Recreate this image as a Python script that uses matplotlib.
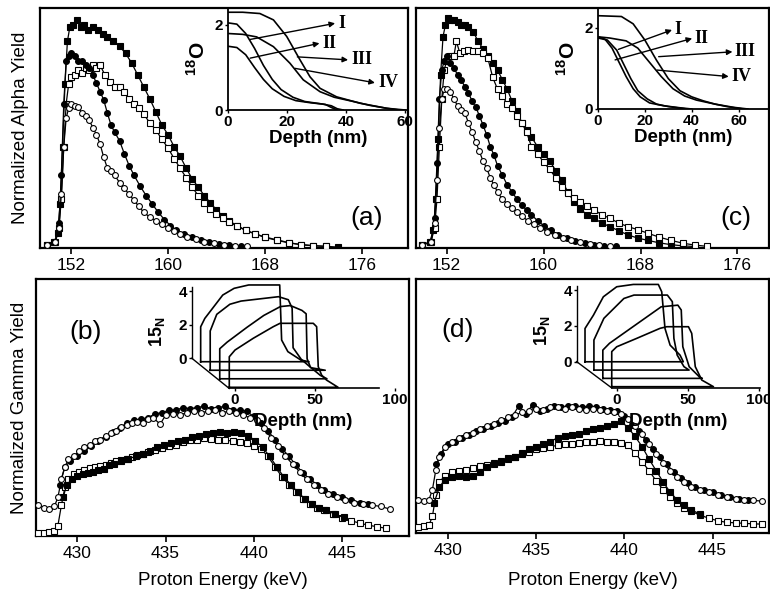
import numpy as np
import matplotlib
matplotlib.use('Agg')
import matplotlib.pyplot as plt

plt.rcParams['font.family'] = ['Liberation Sans', 'DejaVu Sans']
plt.rcParams['mathtext.fontset'] = 'custom'
plt.rcParams['mathtext.rm'] = 'Liberation Sans'
plt.rcParams['mathtext.bf'] = 'Liberation Sans:bold'

W, H = 770, 593

################################################################################
# panel (a): alpha yield vs proton energy (keV)

fs_a_x = [150.0, 150.6, 150.9, 151.1, 151.3, 151.5, 151.7, 151.9, 152.2, 152.5, 152.8, 153.1, 153.4, 153.8,
          154.2, 154.6, 155.0, 155.5, 156.0, 156.5, 157.0, 157.5, 158.0, 158.5, 159.0, 159.5, 160.0, 160.5,
          161.0, 161.5, 162.0, 162.5, 163.0, 163.5, 164.0, 164.5, 165.0, 165.7, 166.4, 167.2, 168.0, 169.0,
          170.0, 171.0, 172.0, 173.0, 174.0]
fs_a_y = [0.01, 0.02, 0.06, 0.18, 0.42, 0.68, 0.86, 0.92, 0.93, 0.95, 0.92, 0.93, 0.91, 0.92,
          0.91, 0.89, 0.88, 0.86, 0.84, 0.81, 0.77, 0.72, 0.67, 0.62, 0.565, 0.51, 0.47, 0.42,
          0.38, 0.33, 0.285, 0.25, 0.215, 0.185, 0.155, 0.13, 0.11, 0.09, 0.07, 0.055, 0.04, 0.028,
          0.017, 0.01, 0.006, 0.003, 0.0]

os_a_x = [150.0, 150.7, 151.0, 151.2, 151.4, 151.6, 151.8, 152.0, 152.3, 152.6, 152.9, 153.2, 153.5, 153.8,
          154.1, 154.4, 154.8, 155.2, 155.6, 156.0, 156.4, 156.8, 157.2, 157.6, 158.0, 158.5, 159.0, 159.5,
          160.0, 160.5, 161.0, 161.5, 162.0, 162.5, 163.0, 163.5, 164.0, 164.5, 165.0, 165.7, 166.4, 167.2,
          168.0, 169.0, 170.0, 171.0, 172.0, 173.0]
os_a_y = [0.01, 0.02, 0.08, 0.2, 0.42, 0.6, 0.68, 0.71, 0.72, 0.74, 0.73, 0.75, 0.74, 0.76,
          0.75, 0.76, 0.72, 0.69, 0.67, 0.67, 0.65, 0.62, 0.6, 0.58, 0.555, 0.52, 0.49, 0.45,
          0.415, 0.37, 0.33, 0.29, 0.25, 0.215, 0.185, 0.16, 0.14, 0.12, 0.105, 0.088, 0.07, 0.055,
          0.042, 0.03, 0.018, 0.01, 0.005, 0.003]

fc_a_x = [150.0, 150.7, 151.0, 151.2, 151.4, 151.6, 151.8, 152.0, 152.3, 152.6, 152.9, 153.2, 153.5, 153.8,
          154.1, 154.4, 154.7, 155.0, 155.3, 155.6, 156.0, 156.4, 156.8, 157.2, 157.7, 158.2, 158.7, 159.2,
          159.7, 160.2, 160.7, 161.3, 162.0, 162.7, 163.4, 164.2, 165.0, 166.0]
fc_a_y = [0.01, 0.02, 0.1, 0.3, 0.6, 0.78, 0.8, 0.81, 0.8, 0.78, 0.78, 0.76, 0.75, 0.72,
          0.685, 0.65, 0.615, 0.56, 0.51, 0.48, 0.445, 0.39, 0.34, 0.3, 0.255, 0.215, 0.18, 0.145,
          0.115, 0.09, 0.07, 0.055, 0.04, 0.028, 0.02, 0.012, 0.008, 0.004]

oc_a_x = [150.0, 150.7, 151.0, 151.2, 151.4, 151.6, 151.8, 152.0, 152.3, 152.6, 152.9, 153.2, 153.5, 153.8,
          154.1, 154.4, 154.7, 155.0, 155.3, 155.6, 156.0, 156.4, 156.8, 157.2, 157.6, 158.0, 158.5, 159.0,
          159.5, 160.0, 160.5, 161.0, 161.6, 162.3, 163.0, 163.8, 164.6, 165.5, 166.5]
oc_a_y = [0.01, 0.02, 0.08, 0.22, 0.42, 0.54, 0.58, 0.6, 0.59, 0.585, 0.56, 0.55, 0.53, 0.5,
          0.47, 0.43, 0.375, 0.33, 0.32, 0.3, 0.27, 0.245, 0.22, 0.195, 0.17, 0.145, 0.125, 0.11,
          0.095, 0.08, 0.068, 0.055, 0.042, 0.032, 0.022, 0.016, 0.01, 0.006, 0.003]

################################################################################
# panel (c)

fs_c_x = [150.0, 150.6, 150.9, 151.1, 151.3, 151.5, 151.7, 151.9, 152.1, 152.3, 152.6, 152.9, 153.2, 153.5,
          153.8, 154.2, 154.6, 155.0, 155.4, 155.8, 156.2, 156.6, 157.0, 157.4, 157.8, 158.2, 158.6, 159.0,
          159.5, 160.0, 160.5, 161.0, 161.5, 162.0, 162.5, 163.0, 163.6, 164.2, 164.8, 165.5, 166.2, 167.0,
          167.8, 168.6, 169.5, 170.5, 171.5, 172.5]
fs_c_y = [0.01, 0.02, 0.07, 0.2, 0.45, 0.72, 0.88, 0.93, 0.96, 0.95, 0.95, 0.94, 0.93, 0.93,
          0.92, 0.9, 0.86, 0.83, 0.8, 0.77, 0.74, 0.7, 0.66, 0.61, 0.57, 0.52, 0.49, 0.46,
          0.42, 0.39, 0.36, 0.32, 0.28, 0.23, 0.19, 0.16, 0.135, 0.12, 0.1, 0.085, 0.068, 0.05,
          0.037, 0.028, 0.018, 0.01, 0.005, 0.002]

os_c_x = [150.0, 150.7, 151.0, 151.2, 151.4, 151.6, 151.8, 152.0, 152.3, 152.6, 152.8, 153.1, 153.4, 153.8,
          154.2, 154.6, 155.0, 155.4, 155.8, 156.2, 156.6, 157.0, 157.4, 157.8, 158.2, 158.6, 159.0, 159.5,
          160.0, 160.5, 161.0, 161.5, 162.0, 162.5, 163.0, 163.6, 164.2, 164.8, 165.5, 166.2, 167.0, 167.8,
          168.6, 169.5, 170.5, 171.5, 172.5, 173.5]
os_c_y = [0.01, 0.02, 0.08, 0.2, 0.42, 0.62, 0.74, 0.78, 0.8, 0.8, 0.86, 0.81, 0.82, 0.825,
          0.82, 0.82, 0.81, 0.79, 0.71, 0.66, 0.63, 0.6, 0.58, 0.55, 0.52, 0.48, 0.42, 0.39,
          0.355, 0.325, 0.29, 0.25, 0.225, 0.205, 0.19, 0.17, 0.155, 0.135, 0.12, 0.1, 0.085, 0.072,
          0.058, 0.042, 0.028, 0.016, 0.008, 0.003]

fc_c_x = [150.0, 150.7, 151.0, 151.2, 151.4, 151.6, 151.8, 152.0, 152.3, 152.6, 152.9, 153.2, 153.5, 153.8,
          154.1, 154.4, 154.7, 155.0, 155.3, 155.6, 155.9, 156.2, 156.6, 157.0, 157.4, 157.8, 158.2, 158.6,
          159.0, 159.5, 160.0, 160.6, 161.2, 161.9, 162.6, 163.4, 164.2, 165.0, 166.0]
fc_c_y = [0.01, 0.02, 0.12, 0.35, 0.62, 0.74, 0.78, 0.8, 0.77, 0.75, 0.72, 0.7, 0.67, 0.645,
          0.61, 0.585, 0.55, 0.51, 0.47, 0.42, 0.385, 0.34, 0.3, 0.26, 0.23, 0.2, 0.175, 0.155,
          0.135, 0.11, 0.09, 0.07, 0.052, 0.037, 0.026, 0.017, 0.01, 0.006, 0.003]

oc_c_x = [150.0, 150.7, 151.0, 151.2, 151.4, 151.6, 151.8, 152.0, 152.3, 152.6, 152.9, 153.2, 153.5, 153.8,
          154.1, 154.4, 154.7, 155.0, 155.3, 155.6, 155.9, 156.2, 156.6, 157.0, 157.4, 157.8, 158.2, 158.7,
          159.2, 159.7, 160.3, 160.9, 161.6, 162.3, 163.0, 163.8, 164.6, 165.5]
oc_c_y = [0.01, 0.02, 0.1, 0.28, 0.5, 0.62, 0.66, 0.66, 0.65, 0.62, 0.59, 0.575, 0.56, 0.52,
          0.48, 0.44, 0.4, 0.36, 0.33, 0.29, 0.26, 0.23, 0.2, 0.18, 0.165, 0.145, 0.13, 0.11,
          0.095, 0.08, 0.065, 0.05, 0.038, 0.028, 0.02, 0.012, 0.007, 0.003]

################################################################################
# panel (b): gamma yield vs proton energy (keV)

oc_b_x = [427.8, 428.1, 428.4, 428.7, 428.9, 429.1, 429.3, 429.5, 429.8, 430.1, 430.4, 430.7, 431.0, 431.3,
          431.6, 431.9, 432.2, 432.5, 432.8, 433.1, 433.4, 433.7, 434.0, 434.3, 434.7, 435.0, 435.4, 435.8,
          436.2, 436.6, 437.0, 437.4, 437.8, 438.2, 438.6, 439.0, 439.4, 439.8, 440.2, 440.6, 441.0, 441.4,
          441.8, 442.2, 442.6, 443.0, 443.4, 443.8, 444.2, 444.7, 445.2, 445.7, 446.2, 446.7, 447.2, 447.7]
oc_b_y = [0.12, 0.11, 0.105, 0.115, 0.15, 0.22, 0.27, 0.3, 0.31, 0.33, 0.345, 0.355, 0.37, 0.375,
          0.39, 0.4, 0.41, 0.425, 0.43, 0.44, 0.445, 0.44, 0.455, 0.46, 0.435, 0.47, 0.475, 0.47,
          0.48, 0.485, 0.48, 0.485, 0.49, 0.48, 0.485, 0.48, 0.47, 0.46, 0.45, 0.42, 0.38, 0.35,
          0.31, 0.28, 0.25, 0.22, 0.2, 0.18, 0.165, 0.15, 0.14, 0.13, 0.125, 0.12, 0.115, 0.105]

fc_b_x = [429.0, 429.3, 429.6, 430.0, 430.4, 430.8, 431.2, 431.6, 432.0, 432.4, 432.8, 433.2, 433.6, 434.0,
          434.4, 434.8, 435.2, 435.6, 436.0, 436.4, 436.8, 437.2, 437.6, 438.0, 438.4, 438.8, 439.2, 439.6,
          440.0, 440.4, 440.8, 441.2, 441.6, 442.0, 442.4, 442.8, 443.2, 443.6, 444.0, 444.5, 445.0, 445.5,
          446.0, 446.5]
fc_b_y = [0.2, 0.27, 0.29, 0.31, 0.33, 0.35, 0.37, 0.385, 0.405, 0.42, 0.44, 0.45, 0.455, 0.46,
          0.475, 0.48, 0.49, 0.49, 0.5, 0.495, 0.5, 0.505, 0.495, 0.5, 0.505, 0.49, 0.49, 0.485,
          0.465, 0.44, 0.41, 0.375, 0.34, 0.31, 0.275, 0.245, 0.22, 0.2, 0.18, 0.165, 0.15, 0.14,
          0.13, 0.125]

os_b_x = [427.8, 428.1, 428.4, 428.7, 428.9, 429.1, 429.3, 429.5, 429.8, 430.1, 430.4, 430.7, 431.0, 431.3,
          431.6, 431.9, 432.2, 432.5, 432.8, 433.1, 433.4, 433.7, 434.0, 434.4, 434.8, 435.2, 435.6, 436.0,
          436.4, 436.8, 437.2, 437.6, 438.0, 438.4, 438.8, 439.2, 439.6, 440.0, 440.4, 440.8, 441.2, 441.6,
          442.0, 442.4, 442.8, 443.2, 443.6, 444.0, 444.5, 445.0, 445.5, 446.0, 446.5, 447.0, 447.5]
os_b_y = [0.01, 0.012, 0.015, 0.02, 0.04, 0.12, 0.19, 0.22, 0.24, 0.25, 0.258, 0.265, 0.268, 0.272,
          0.275, 0.283, 0.29, 0.295, 0.3, 0.308, 0.315, 0.32, 0.328, 0.335, 0.342, 0.35, 0.355, 0.365,
          0.372, 0.375, 0.38, 0.378, 0.372, 0.372, 0.37, 0.365, 0.36, 0.35, 0.34, 0.31, 0.27, 0.23,
          0.2, 0.17, 0.145, 0.125, 0.11, 0.1, 0.085, 0.07, 0.06, 0.05, 0.042, 0.036, 0.03]

fs_b_x = [429.2, 429.4, 429.7, 430.0, 430.3, 430.6, 430.9, 431.2, 431.5, 431.8, 432.1, 432.5, 432.9, 433.3,
          433.7, 434.1, 434.5, 434.9, 435.3, 435.7, 436.1, 436.5, 436.9, 437.3, 437.7, 438.1, 438.5, 438.9,
          439.3, 439.7, 440.1, 440.5, 440.9, 441.3, 441.7, 442.1, 442.5, 442.9, 443.3, 443.7, 444.1, 444.6,
          445.1]
fs_b_y = [0.15, 0.2, 0.22, 0.235, 0.24, 0.245, 0.25, 0.255, 0.26, 0.275, 0.28, 0.29, 0.3, 0.31,
          0.32, 0.33, 0.345, 0.355, 0.36, 0.37, 0.375, 0.385, 0.39, 0.395, 0.4, 0.405, 0.4, 0.405,
          0.4, 0.39, 0.37, 0.345, 0.31, 0.27, 0.23, 0.2, 0.17, 0.145, 0.125, 0.11, 0.1, 0.085,
          0.072]

################################################################################
# panel (d)

oc_d_x = [428.3, 428.6, 428.9, 429.1, 429.3, 429.5, 429.8, 430.2, 430.6, 431.0, 431.4, 431.8, 432.2, 432.6,
          433.0, 433.4, 433.8, 434.2, 434.6, 435.0, 435.4, 435.8, 436.2, 436.6, 437.0, 437.4, 437.8, 438.2,
          438.6, 439.0, 439.4, 439.8, 440.2, 440.6, 441.0, 441.4, 441.8, 442.2, 442.6, 443.0, 443.4, 443.8,
          444.3, 444.8, 445.3, 445.8, 446.3, 446.8, 447.3, 447.8]
oc_d_y = [0.13, 0.125, 0.13, 0.17, 0.25, 0.3, 0.34, 0.36, 0.375, 0.385, 0.395, 0.41, 0.42, 0.43,
          0.445, 0.455, 0.465, 0.475, 0.48, 0.49, 0.485, 0.495, 0.495, 0.49, 0.495, 0.49, 0.485, 0.49,
          0.485, 0.48, 0.475, 0.47, 0.45, 0.42, 0.39, 0.35, 0.31, 0.275, 0.245, 0.22, 0.2, 0.18,
          0.168, 0.16, 0.15, 0.142, 0.135, 0.13, 0.128, 0.126]

fc_d_x = [429.3, 429.6, 430.0, 430.4, 430.8, 431.2, 431.6, 432.0, 432.4, 432.8, 433.2, 433.6, 434.0, 434.4,
          434.8, 435.2, 435.6, 436.0, 436.4, 436.8, 437.2, 437.6, 438.0, 438.4, 438.8, 439.2, 439.6, 440.0,
          440.4, 440.8, 441.2, 441.6, 442.0, 442.4, 442.8, 443.2, 443.6, 444.0, 444.5, 445.0, 445.5, 446.0,
          446.5, 447.0]
fc_d_y = [0.27, 0.31, 0.35, 0.36, 0.375, 0.385, 0.4, 0.41, 0.42, 0.435, 0.44, 0.455, 0.5, 0.47,
          0.505, 0.48, 0.49, 0.5, 0.495, 0.5, 0.5, 0.495, 0.5, 0.495, 0.49, 0.485, 0.48, 0.46,
          0.425, 0.4, 0.365, 0.33, 0.3, 0.27, 0.24, 0.215, 0.195, 0.18, 0.17, 0.16, 0.15, 0.14,
          0.135, 0.13]

os_d_x = [428.3, 428.6, 428.9, 429.1, 429.3, 429.5, 429.8, 430.2, 430.6, 431.0, 431.4, 431.8, 432.2, 432.6,
          433.0, 433.4, 433.8, 434.2, 434.6, 435.0, 435.4, 435.8, 436.2, 436.6, 437.0, 437.4, 437.8, 438.2,
          438.6, 439.0, 439.4, 439.8, 440.2, 440.6, 441.0, 441.4, 441.8, 442.2, 442.6, 443.0, 443.4, 443.8,
          444.3, 444.8, 445.3, 445.8, 446.3, 446.8, 447.3, 447.8]
os_d_y = [0.025, 0.027, 0.03, 0.065, 0.15, 0.2, 0.225, 0.24, 0.245, 0.25, 0.255, 0.262, 0.268, 0.275,
          0.285, 0.29, 0.3, 0.31, 0.32, 0.33, 0.335, 0.34, 0.345, 0.35, 0.352, 0.355, 0.358, 0.36,
          0.362, 0.36, 0.358, 0.355, 0.345, 0.315, 0.28, 0.245, 0.205, 0.17, 0.14, 0.12, 0.1, 0.085,
          0.07, 0.058, 0.048, 0.042, 0.04, 0.038, 0.036, 0.035]

fs_d_x = [429.2, 429.5, 429.8, 430.2, 430.6, 431.0, 431.4, 431.8, 432.2, 432.6, 433.0, 433.4, 433.8, 434.2,
          434.6, 435.0, 435.4, 435.8, 436.2, 436.6, 437.0, 437.4, 437.8, 438.2, 438.6, 439.0, 439.4, 439.8,
          440.2, 440.6, 441.0, 441.4, 441.8, 442.2, 442.6, 443.0, 443.4, 443.8, 444.3]
fs_d_y = [0.12, 0.18, 0.21, 0.22, 0.225, 0.22, 0.225, 0.24, 0.26, 0.27, 0.28, 0.295, 0.3, 0.315,
          0.33, 0.34, 0.35, 0.36, 0.375, 0.38, 0.385, 0.39, 0.4, 0.41, 0.415, 0.42, 0.43, 0.44,
          0.415, 0.38, 0.34, 0.29, 0.245, 0.2, 0.16, 0.13, 0.11, 0.09, 0.075]

################################################################################
# 18O depth profiles (insets of a and c), depth in nm

o18_a = [
    ([0, 5, 10.8, 15.4, 19.9, 24.4, 27.8, 31.2, 36.8, 44.7, 53.8, 60],
     [2.3, 2.3, 2.27, 2.12, 1.73, 1.18, 0.78, 0.51, 0.31, 0.16, 0.04, 0.0]),
    ([0, 3, 6, 9, 12, 15, 18, 22, 26, 30, 33, 35, 37],
     [2.05, 2.02, 1.8, 1.45, 1.05, 0.72, 0.48, 0.3, 0.2, 0.16, 0.13, 0.06, 0.0]),
    ([0, 5, 9.7, 15.4, 21, 25.5, 31.2, 36, 42.5, 48, 53.8, 58],
     [1.8, 1.78, 1.72, 1.49, 1.1, 0.71, 0.43, 0.3, 0.2, 0.11, 0.04, 0.0]),
    ([0, 3, 6, 9, 12, 15, 19, 23, 28, 32, 35, 37, 39],
     [1.5, 1.47, 1.3, 1.0, 0.72, 0.5, 0.32, 0.22, 0.17, 0.14, 0.1, 0.03, 0.0]),
]
o18_c = [
    ([0, 10, 15, 20, 25, 30, 35, 40, 45, 50, 55, 62],
     [2.3, 2.28, 2.1, 1.7, 1.2, 0.75, 0.45, 0.3, 0.2, 0.12, 0.06, 0.0]),
    ([0, 5, 12, 17, 22, 27, 32, 37, 42, 50, 58, 64],
     [1.78, 1.75, 1.68, 1.5, 1.15, 0.8, 0.5, 0.32, 0.22, 0.12, 0.04, 0.0]),
    ([0, 3, 6, 9, 12, 15, 18, 22, 28, 35, 40],
     [1.78, 1.72, 1.5, 1.15, 0.8, 0.5, 0.3, 0.15, 0.08, 0.03, 0.0]),
    ([0, 4, 8, 11, 14, 17, 21, 25, 30, 38],
     [1.75, 1.7, 1.45, 1.1, 0.75, 0.45, 0.25, 0.12, 0.06, 0.0]),
]
roman = ['I', 'II', 'III', 'IV']
# (arrow tail on curve, label position) in inset data units
arrows_a = [((7.5, 1.66), (36.3, 2.04)), ((7.5, 1.22), (31.0, 1.57)),
            ((23.5, 1.25), (40.7, 1.18)), ((22.7, 0.98), (49.8, 0.64))]
arrows_c = [((8.7, 1.47), (31.6, 1.95)), ((7.3, 1.21), (40.2, 1.74)),
            ((25.9, 1.29), (57.4, 1.41)), ((25.2, 0.96), (55.8, 0.80))]

################################################################################
# 15N profiles (insets of b and d), local depth (nm) / height, back curve first

n15_b = [
    ([0, 0, 2.6, 13.8, 20.9, 30, 49.4, 50.6, 54.5, 62.6, 67.7],
     [0, 2.08, 2.58, 3.97, 4.37, 4.57, 4.57, 1.29, 0.6, 0.1, 0]),
    ([0, 0, 4.1, 12.3, 19.3, 42.7, 48.8, 51.2, 51.8, 56.9, 63, 71.9],
     [0, 2.34, 3.33, 3.93, 4.12, 4.38, 4.2, 3.7, 1.34, 0.65, 0.15, 0]),
    ([0, 0, 4.6, 17.1, 27.5, 37.9, 44.2, 51.4, 54, 54.6, 56.7, 62.9, 67],
     [0, 1.79, 2.18, 3.07, 3.77, 4.3, 4.36, 4.07, 3.87, 1.19, 0.69, 0.2, 0]),
    ([0, 0, 3.6, 15, 27.5, 31.7, 52.5, 54.6, 55.6, 57.7, 60.8, 68],
     [0, 1.82, 2.22, 2.92, 3.61, 3.81, 3.81, 3.61, 1.23, 0.73, 0.43, 0]),
]
n15_d = [
    ([0, 0, 5.9, 12.9, 22.3, 34, 51.6, 54, 56.3, 59.9, 66.9, 69.2],
     [0, 1.86, 2.6, 3.63, 4.19, 4.32, 4.32, 3.91, 1.86, 0.93, 0.37, 0]),
    ([0, 0, 7, 21.1, 28.2, 51.7, 55.2, 56.3, 58.6, 63.4, 67],
     [0, 1.68, 2.89, 4.0, 4.19, 4.19, 3.82, 1.77, 0.84, 0.19, 0]),
    ([0, 0, 4.7, 21.1, 41.1, 52.8, 55.2, 56.3, 60.8, 67.9, 70],
     [0, 1.58, 1.96, 2.88, 4.0, 4.09, 3.82, 1.77, 0.65, 0.09, 0]),
    ([0, 0, 3.5, 17.6, 34, 38.7, 54, 56.3, 58.8, 63.4, 71.6],
     [0, 1.96, 2.23, 2.7, 3.26, 3.35, 3.35, 2.98, 1.12, 0.37, 0]),
]

################################################################################

def box(l, t, r, b):
    return [l / W, 1 - b / H, (r - l) / W, (b - t) / H]


def series(ax, x, y, marker, filled):
    ax.plot(x, y, color='k', lw=0.9, marker=marker, ms=4.2,
            mfc='k' if filled else 'white', mec='k', mew=0.8, zorder=3)


def main_axes(rect, xlim, ylim, ticks):
    ax = fig.add_axes(rect)
    ax.set_xlim(*xlim)
    ax.set_ylim(*ylim)
    ax.set_xticks(ticks)
    ax.set_yticks([])
    ax.tick_params(axis='x', direction='out', length=4, width=1.2, labelsize=12.5, pad=3)
    for s in ax.spines.values():
        s.set_linewidth(1.6)
    return ax


def o18_inset(rect, xlim, ylim, curves, arrows):
    ins = fig.add_axes(rect)
    ins.patch.set_alpha(0)
    for x, y in curves:
        ins.plot(x, y, color='k', lw=1.2)
    ins.set_xlim(*xlim)
    ins.set_ylim(*ylim)
    ins.set_xticks([0, 20, 40, 60])
    ins.set_yticks([0, 2])
    ins.spines['top'].set_visible(False)
    ins.spines['right'].set_visible(False)
    ins.spines['left'].set_linewidth(1.3)
    ins.spines['bottom'].set_linewidth(1.3)
    ins.tick_params(direction='out', length=2.5, width=1, labelsize=11, pad=1)
    for lab in ins.get_xticklabels() + ins.get_yticklabels():
        lab.set_fontweight('bold')
    ins.set_xlabel('Depth (nm)', fontsize=13.5, fontweight='bold', labelpad=1)
    ins.set_ylabel(r'$^{\mathbf{18}}$O', fontsize=15, fontweight='bold', labelpad=4)
    for name, (tail, lab) in zip(roman, arrows):
        ins.annotate('', xy=lab, xytext=tail,
                     arrowprops=dict(arrowstyle='-|>', color='k', lw=1.0, mutation_scale=8,
                                     shrinkA=0, shrinkB=0))
        ins.text(lab[0] + 1.0, lab[1], name, family='Liberation Serif', fontweight='bold',
                 fontsize=13, va='center', ha='left', clip_on=False)
    return ins


def n15_inset(rect, xlim, ylim, curves, dx, dy, x_front, x_back, tick0, y_top, x_end, ylab_pos):
    ins = fig.add_axes(rect)
    ins.patch.set_alpha(0)
    ins.set_xlim(*xlim)
    ins.set_ylim(*ylim)
    n = len(curves)
    for k, (x, y) in enumerate(curves):
        ox = x_front - (n - 1 - k) * dx
        oy = (n - 1 - k) * dy
        ins.plot([xi + ox for xi in x] + [ox], [yi + oy for yi in y] + [oy], color='k', lw=1.2)
    # pseudo 3D axes
    ins.spines['top'].set_visible(False)
    ins.spines['right'].set_visible(False)
    ins.spines['left'].set_position(('data', x_back))
    ins.spines['left'].set_bounds(tick0, y_top)
    ins.spines['bottom'].set_position(('data', -0.07))
    ins.spines['bottom'].set_bounds(x_front, x_end)
    ins.spines['left'].set_linewidth(1.0)
    ins.spines['bottom'].set_linewidth(1.2)
    ins.plot([x_back, x_front], [tick0, -0.07], color='k', lw=1.0)
    ins.set_yticks([tick0, tick0 + 2, tick0 + 4])
    ins.set_yticklabels(['0', '2', '4'])
    ins.set_xticks([0, 50, 100])
    ins.tick_params(direction='out', length=2.5, width=1, labelsize=11, pad=1)
    for lab in ins.get_xticklabels() + ins.get_yticklabels():
        lab.set_fontweight('bold')
    ins.text(ylab_pos[0], ylab_pos[1], r'15$_{\mathbf{N}}$', rotation=90, fontsize=13,
             fontweight='bold', ha='center', va='center', clip_on=False)
    ins.text(0.56, -0.23, 'Depth (nm)', transform=ins.transAxes, fontsize=13.5,
             fontweight='bold', ha='center', va='center', clip_on=False)
    return ins


fig = plt.figure(figsize=(W / 100, H / 100), dpi=100)

# (a)
ax_a = main_axes(box(40, 8, 408, 248), (149.44, 179.8), (-0.004, 1.0), [152, 160, 168, 176])
series(ax_a, fs_a_x, fs_a_y, 's', True)
series(ax_a, os_a_x, os_a_y, 's', False)
series(ax_a, fc_a_x, fc_a_y, 'o', True)
series(ax_a, oc_a_x, oc_a_y, 'o', False)
ax_a.text(0.887, 0.125, '(a)', transform=ax_a.transAxes, fontsize=19, ha='center', va='center')
ax_a.set_ylabel('Normalized Alpha Yield', fontsize=13.5, labelpad=8)
o18_inset(box(228, 8, 408, 110), (0, 61), (0, 2.4), o18_a, arrows_a)

# (c)
ax_c = main_axes(box(416, 8, 769, 248), (149.47, 178.6), (-0.004, 1.0), [152, 160, 168, 176])
series(ax_c, fs_c_x, fs_c_y, 's', True)
series(ax_c, os_c_x, os_c_y, 's', False)
series(ax_c, fc_c_x, fc_c_y, 'o', True)
series(ax_c, oc_c_x, oc_c_y, 'o', False)
ax_c.text(0.907, 0.125, '(c)', transform=ax_c.transAxes, fontsize=19, ha='center', va='center')
o18_inset(box(598, 8, 769, 109), (0, 73), (0, 2.49), o18_c, arrows_c)

# (b)
ax_b = main_axes(box(36, 279, 409, 536), (427.66, 448.8), (0, 1.0), [430, 435, 440, 445])
series(ax_b, os_b_x, os_b_y, 's', False)
series(ax_b, fs_b_x, fs_b_y, 's', True)
series(ax_b, fc_b_x, fc_b_y, 'o', True)
series(ax_b, oc_b_x, oc_b_y, 'o', False)
ax_b.text(0.132, 0.795, '(b)', transform=ax_b.transAxes, fontsize=19, ha='center', va='center')
ax_b.set_ylabel('Normalized Gamma Yield', fontsize=13.5, labelpad=6)
ax_b.set_xlabel('Proton Energy (keV)', fontsize=13.5, labelpad=8)
n15_inset(box(180, 280, 400, 395), (-34.4, 103.1), (-0.458, 6.39), n15_b,
          5.96, 0.508, -3.6, -27.0, 1.73, 6.0, 90, (-48.5, 3.3))

# (d)
ax_d = main_axes(box(416, 279, 769, 533), (428.17, 448.2), (0, 1.0), [430, 435, 440, 445])
series(ax_d, os_d_x, os_d_y, 's', False)
series(ax_d, fs_d_x, fs_d_y, 's', True)
series(ax_d, fc_d_x, fc_d_y, 'o', True)
series(ax_d, oc_d_x, oc_d_y, 'o', False)
ax_d.text(0.118, 0.8, '(d)', transform=ax_d.transAxes, fontsize=19, ha='center', va='center')
ax_d.set_xlabel('Proton Energy (keV)', fontsize=13.5, labelpad=10)
n15_inset(box(565, 280, 768, 395), (-36.4, 106.5), (-0.464, 5.96), n15_d,
          6.27, 0.464, -3.5, -28.2, 1.40, 5.6, 101, (-52.5, 3.1))

fig.savefig('out.png', dpi=100)
